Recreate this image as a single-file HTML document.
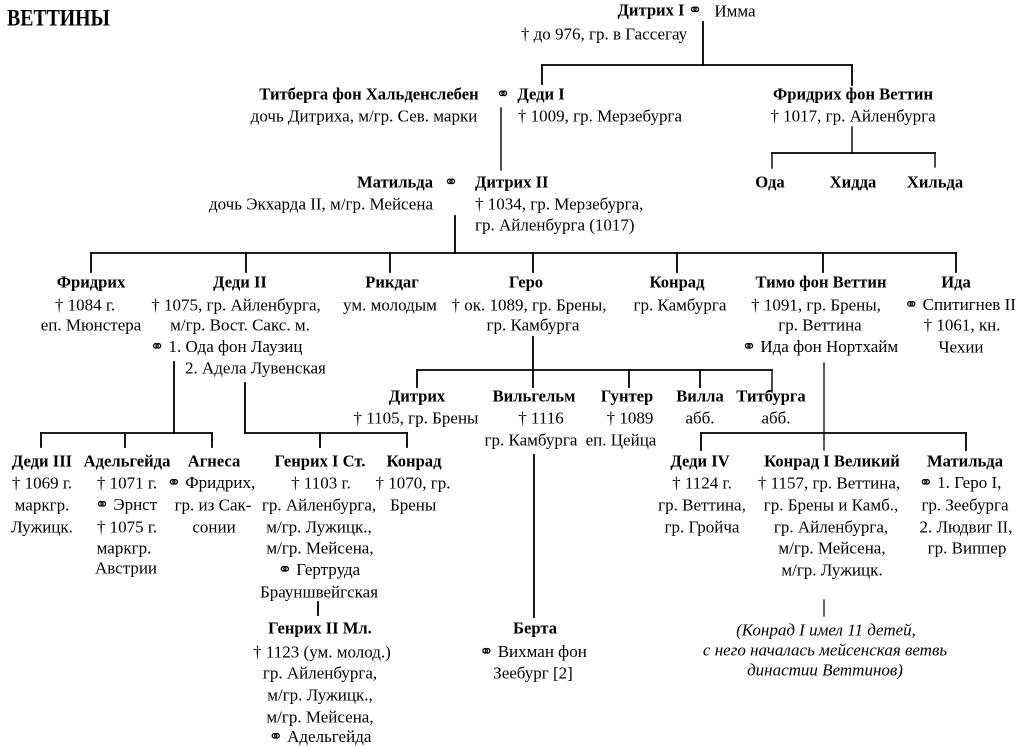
<!DOCTYPE html>
<html lang="ru">
<head>
<meta charset="utf-8">
<style>
  html,body{margin:0;padding:0;background:#fff;}
  body{width:1019px;height:744px;position:relative;overflow:hidden;
       font-family:"Liberation Serif","DejaVu Serif",serif;color:#000;}
  .c{position:absolute;white-space:nowrap;transform:translate(-50%,-50%);line-height:1;font-size:17px;}
  .l{position:absolute;white-space:nowrap;transform:translateY(-50%);line-height:1;font-size:17px;}
  .r{position:absolute;white-space:nowrap;transform:translateY(-50%);line-height:1;font-size:17px;text-align:right;}
  .b{font-weight:bold;font-size:16.6px;}
  .i{font-style:italic;font-size:17px;}
  .m{font-family:"DejaVu Sans",sans-serif;font-size:17px;font-weight:normal;}
  svg{position:absolute;left:0;top:0;}
</style>
</head>
<body>
<svg width="1019" height="744" viewBox="0 0 1019 744">
  <g stroke="#000" stroke-width="1.8" fill="none" stroke-linecap="square">
    <line x1="703" y1="22" x2="703" y2="65"/>
    <line x1="542" y1="65" x2="852" y2="65"/>
    <line x1="542" y1="65" x2="542" y2="84"/>
    <line x1="852" y1="65" x2="852" y2="85"/>
    <line x1="501" y1="108" x2="501" y2="170" stroke-width="1.4"/>
    <line x1="852" y1="127" x2="852" y2="153" stroke-width="1.4"/>
    <line x1="772" y1="153" x2="935" y2="153"/>
    <line x1="772" y1="153" x2="772" y2="168" stroke-width="1.4"/>
    <line x1="935" y1="153" x2="935" y2="167" stroke-width="1.4"/>
    <line x1="455" y1="216" x2="455" y2="253"/>
    <line x1="91" y1="253" x2="956" y2="253"/>
    <line x1="91" y1="253" x2="91" y2="272"/>
    <line x1="246" y1="253" x2="246" y2="272"/>
    <line x1="390" y1="253" x2="390" y2="272"/>
    <line x1="533" y1="253" x2="533" y2="272"/>
    <line x1="677" y1="253" x2="677" y2="272"/>
    <line x1="823" y1="253" x2="823" y2="272"/>
    <line x1="956" y1="253" x2="956" y2="272"/>
    <line x1="533" y1="337" x2="533" y2="387"/>
    <line x1="417" y1="370" x2="772" y2="370"/>
    <line x1="417" y1="370" x2="417" y2="387"/>
    <line x1="629" y1="370" x2="629" y2="387"/>
    <line x1="700" y1="370" x2="700" y2="387"/>
    <line x1="772" y1="370" x2="772" y2="392" stroke-width="1.4"/>
    <line x1="174" y1="362" x2="174" y2="433"/>
    <line x1="41" y1="433" x2="212" y2="433"/>
    <line x1="41" y1="433" x2="41" y2="447"/>
    <line x1="125" y1="433" x2="125" y2="447"/>
    <line x1="212" y1="433" x2="212" y2="447"/>
    <line x1="245" y1="383" x2="245" y2="433"/>
    <line x1="245" y1="433" x2="407" y2="433"/>
    <line x1="320" y1="433" x2="320" y2="447"/>
    <line x1="407" y1="433" x2="407" y2="447"/>
    <line x1="824" y1="363" x2="824" y2="450" stroke-width="1.3"/>
    <line x1="701" y1="433" x2="966" y2="433"/>
    <line x1="701" y1="433" x2="701" y2="450"/>
    <line x1="966" y1="433" x2="966" y2="450"/>
    <line x1="534" y1="455" x2="534" y2="617"/>
    <line x1="318" y1="602" x2="318" y2="615"/>
    <line x1="824" y1="600" x2="824" y2="616" stroke-width="1.2"/>
  </g>
</svg>

<div class="l b" style="left:7px;top:18px;font-size:23px;transform:translateY(-50%) scaleX(0.86);transform-origin:left center;">ВЕТТИНЫ</div>

<div class="c b" style="left:651px;top:11px;">Дитрих I</div>
<div class="c m" style="left:695px;top:11px;">&#x26AD;</div>
<div class="c" style="left:735px;top:11px;">Имма</div>
<div class="c" style="left:604px;top:34px;">† до 976, гр. в Гассегау</div>

<div class="c b" style="left:369px;top:95px;">Титберга фон Хальденслебен</div>
<div class="c m" style="left:503px;top:95px;">&#x26AD;</div>
<div class="c b" style="left:541px;top:95px;">Деди I</div>
<div class="c" style="left:364px;top:116px;">дочь Дитриха, м/гр. Сев. марки</div>
<div class="c" style="left:600px;top:116px;">† 1009, гр. Мерзебурга</div>
<div class="c b" style="left:853px;top:95px;">Фридрих фон Веттин</div>
<div class="c" style="left:853px;top:116px;">† 1017, гр. Айленбурга</div>

<div class="c b" style="left:770px;top:183px;">Ода</div>
<div class="c b" style="left:853px;top:183px;">Хидда</div>
<div class="c b" style="left:935px;top:183px;">Хильда</div>
<div class="c b" style="left:395px;top:183px;">Матильда</div>
<div class="c m" style="left:451px;top:183px;">&#x26AD;</div>
<div class="l b" style="left:475px;top:183px;">Дитрих II</div>
<div class="r" style="right:586px;top:204px;">дочь Экхарда II, м/гр. Мейсена</div>
<div class="l" style="left:475px;top:204px;">† 1034, гр. Мерзебурга,</div>
<div class="l" style="left:475px;top:225px;">гр. Айленбурга (1017)</div>

<div class="c b" style="left:91px;top:283px;">Фридрих</div>
<div class="c" style="left:85px;top:305px;">† 1084 г.</div>
<div class="c" style="left:91px;top:325px;">еп. Мюнстера</div>

<div class="c b" style="left:240px;top:283px;">Деди II</div>
<div class="c" style="left:236px;top:305px;">† 1075, гр. Айленбурга,</div>
<div class="c" style="left:240px;top:325px;">м/гр. Вост. Сакс. м.</div>
<div class="l" style="left:150px;top:347px;"><span class="m">&#x26AD;</span> 1. Ода фон Лаузиц</div>
<div class="l" style="left:185px;top:368px;">2. Адела Лувенская</div>

<div class="c b" style="left:392px;top:283px;">Рикдаг</div>
<div class="c" style="left:390px;top:305px;">ум. молодым</div>

<div class="c b" style="left:526px;top:283px;">Геро</div>
<div class="c" style="left:529px;top:305px;">† ок. 1089, гр. Брены,</div>
<div class="c" style="left:533px;top:325px;">гр. Камбурга</div>

<div class="c b" style="left:677px;top:283px;">Конрад</div>
<div class="c" style="left:680px;top:305px;">гр. Камбурга</div>

<div class="c b" style="left:821px;top:283px;">Тимо фон Веттин</div>
<div class="c" style="left:816px;top:305px;">† 1091, гр. Брены,</div>
<div class="c" style="left:820px;top:325px;">гр. Веттина</div>
<div class="c" style="left:820px;top:347px;"><span class="m">&#x26AD;</span> Ида фон Нортхайм</div>

<div class="c b" style="left:956px;top:283px;">Ида</div>
<div class="c" style="left:960px;top:305px;"><span class="m">&#x26AD;</span> Спитигнев II</div>
<div class="c" style="left:962px;top:325px;">† 1061, кн.</div>
<div class="c" style="left:961px;top:347px;">Чехии</div>

<div class="c b" style="left:417px;top:397px;">Дитрих</div>
<div class="c" style="left:416px;top:418px;">† 1105, гр. Брены</div>
<div class="c b" style="left:534px;top:397px;">Вильгельм</div>
<div class="c" style="left:541px;top:418px;">† 1116</div>
<div class="c" style="left:531px;top:440px;">гр. Камбурга</div>
<div class="c b" style="left:627px;top:397px;">Гунтер</div>
<div class="c" style="left:630px;top:418px;">† 1089</div>
<div class="c" style="left:621px;top:440px;">еп. Цейца</div>
<div class="c b" style="left:700px;top:397px;">Вилла</div>
<div class="c" style="left:700px;top:418px;">абб.</div>
<div class="c b" style="left:771px;top:397px;">Титбурга</div>
<div class="c" style="left:776px;top:418px;">абб.</div>

<div class="c b" style="left:42px;top:462px;">Деди III</div>
<div class="c" style="left:42px;top:483px;">† 1069 г.</div>
<div class="c" style="left:42px;top:505px;">маркгр.</div>
<div class="c" style="left:42px;top:527px;">Лужицк.</div>

<div class="c b" style="left:127px;top:462px;">Адельгейда</div>
<div class="c" style="left:127px;top:483px;">† 1071 г.</div>
<div class="c" style="left:126px;top:505px;"><span class="m">&#x26AD;</span> Эрнст</div>
<div class="c" style="left:127px;top:527px;">† 1075 г.</div>
<div class="c" style="left:124px;top:548px;">маркгр.</div>
<div class="c" style="left:126px;top:568px;">Австрии</div>

<div class="c b" style="left:214px;top:462px;">Агнеса</div>
<div class="c" style="left:211px;top:483px;"><span class="m">&#x26AD;</span> Фридрих,</div>
<div class="c" style="left:213px;top:505px;">гр. из Сак-</div>
<div class="c" style="left:214px;top:527px;">сонии</div>

<div class="c b" style="left:320px;top:462px;">Генрих I Ст.</div>
<div class="c" style="left:321px;top:483px;">† 1103 г.</div>
<div class="c" style="left:319px;top:505px;">гр. Айленбурга,</div>
<div class="c" style="left:319px;top:527px;">м/гр. Лужицк.,</div>
<div class="c" style="left:320px;top:548px;">м/гр. Мейсена,</div>
<div class="c" style="left:319px;top:570px;"><span class="m">&#x26AD;</span> Гертруда</div>
<div class="c" style="left:319px;top:592px;">Брауншвейгская</div>

<div class="c b" style="left:414px;top:462px;">Конрад</div>
<div class="c" style="left:413px;top:483px;">† 1070, гр.</div>
<div class="l" style="left:390px;top:505px;">Брены</div>

<div class="c b" style="left:700px;top:462px;">Деди IV</div>
<div class="c" style="left:702px;top:483px;">† 1124 г.</div>
<div class="c" style="left:702px;top:505px;">гр. Веттина,</div>
<div class="c" style="left:702px;top:527px;">гр. Гройча</div>

<div class="c b" style="left:832px;top:462px;">Конрад I Великий</div>
<div class="c" style="left:829px;top:483px;">† 1157, гр. Веттина,</div>
<div class="c" style="left:831px;top:505px;">гр. Брены и Камб.,</div>
<div class="c" style="left:831px;top:527px;">гр. Айленбурга,</div>
<div class="c" style="left:832px;top:548px;">м/гр. Мейсена,</div>
<div class="c" style="left:832px;top:570px;">м/гр. Лужицк.</div>

<div class="c b" style="left:965px;top:462px;">Матильда</div>
<div class="c" style="left:960px;top:483px;"><span class="m">&#x26AD;</span> 1. Геро I,</div>
<div class="c" style="left:965px;top:505px;">гр. Зеебурга</div>
<div class="c" style="left:966px;top:527px;">2. Людвиг II,</div>
<div class="c" style="left:967px;top:548px;">гр. Виппер</div>

<div class="c b" style="left:320px;top:629px;">Генрих II Мл.</div>
<div class="c" style="left:322px;top:652px;">† 1123 (ум. молод.)</div>
<div class="c" style="left:320px;top:673px;">гр. Айленбурга,</div>
<div class="c" style="left:320px;top:695px;">м/гр. Лужицк.,</div>
<div class="c" style="left:320px;top:717px;">м/гр. Мейсена,</div>
<div class="c" style="left:320px;top:737px;"><span class="m">&#x26AD;</span> Адельгейда</div>

<div class="c b" style="left:535px;top:629px;">Берта</div>
<div class="c" style="left:533px;top:652px;"><span class="m">&#x26AD;</span> Вихман фон</div>
<div class="c" style="left:533px;top:673px;">Зеебург [2]</div>

<div class="c i" style="left:826px;top:630px;">(Конрад I имел 11 детей,</div>
<div class="c i" style="left:825px;top:650px;">с него началась мейсенская ветвь</div>
<div class="c i" style="left:825px;top:670px;">династии Веттинов)</div>

</body>
</html>
